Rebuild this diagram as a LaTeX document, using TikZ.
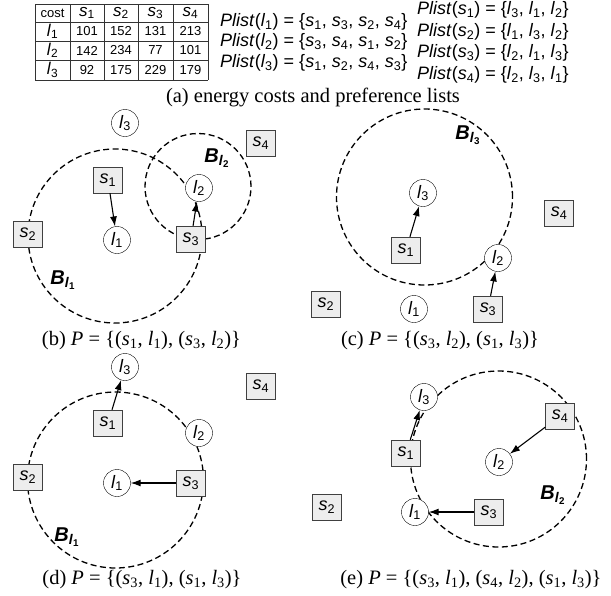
\documentclass[tikz,border=0pt]{standalone}
\usepackage{fontspec}
\setmainfont{Liberation Serif}
\setsansfont{Liberation Sans}
\usetikzlibrary{arrows.meta,backgrounds}

\newcommand{\sv}[1]{\textit{s}\textsubscript{#1}}
\newcommand{\lv}[1]{\textit{l}\textsubscript{#1}}
\newcommand{\plist}[2]{\textit{Plist}(#1) = \{#2\}}
\newcommand{\bset}[1]{\textbf{\textit{B}\textsubscript{\textit{l}\textsubscript{#1}}}}
\newcommand{\pset}[1]{\textit{P} = \{#1\}}

\begin{document}
\begin{tikzpicture}[
    x=1pt, y=-1pt,
    site/.style={draw=black!75, fill=black!7, minimum width=29pt,
                 minimum height=26pt, inner sep=0pt,
                 font=\sffamily\fontsize{18}{18}\selectfont},
    loc/.style={circle, draw, fill=white, minimum size=27pt, inner sep=0pt,
                font=\sffamily\fontsize{18}{18}\selectfont},
    ball/.style={draw, line width=1.3pt, dash pattern=on 6pt off 3.5pt},
    pick/.style={line width=1.1pt, -{Latex[length=10pt,width=7pt]}},
    balllabel/.style={font=\sffamily\fontsize{20}{20}\selectfont},
    subcap/.style={anchor=base, font=\fontsize{20.5}{24}\selectfont},
    cell/.style={font=\sffamily\fontsize{13}{13}\selectfont},
    head/.style={font=\sffamily\fontsize{17}{17}\selectfont},
    plist/.style={anchor=west, inner sep=0pt,
                  font=\sffamily\fontsize{18}{18}\selectfont},
]
\useasboundingbox (0,0) rectangle (611,595);

% (a) cost table and preference lists
\foreach \x in {35,70,104,138,173,208}
  \draw[black!80] (\x,4) -- (\x,80);
\foreach \y in {4,22,41,60,80}
  \draw[black!80] (35,\y) -- (208,\y);

\node[cell] (cost) at (52.5,13) {cost};
\foreach \k/\x in {1/87,2/121,3/155.5,4/190.5}
  \node[head] (head\k) at (\x,13) {\sv{\k}};
\foreach \k/\y/\a/\b/\c/\d in {1/31.5/101/152/131/213,
                               2/50.5/142/234/77/101,
                               3/70/92/175/229/179}{
  \node[head] (row\k) at (52.5,\y) {\lv{\k}};
  \node[cell] (c\k-1) at (87,\y) {\a};
  \node[cell] (c\k-2) at (121,\y) {\b};
  \node[cell] (c\k-3) at (155.5,\y) {\c};
  \node[cell] (c\k-4) at (190.5,\y) {\d};
}

\node[plist] (pl1) at (220,22) {\plist{\lv{1}}{\sv{1}, \sv{3}, \sv{2}, \sv{4}}};
\node[plist] (pl2) at (220,42) {\plist{\lv{2}}{\sv{3}, \sv{4}, \sv{1}, \sv{2}}};
\node[plist] (pl3) at (220,63) {\plist{\lv{3}}{\sv{1}, \sv{2}, \sv{4}, \sv{3}}};
\node[plist] (ps1) at (417,10) {\plist{\sv{1}}{\lv{3}, \lv{1}, \lv{2}}};
\node[plist] (ps2) at (417,32) {\plist{\sv{2}}{\lv{1}, \lv{3}, \lv{2}}};
\node[plist] (ps3) at (417,53) {\plist{\sv{3}}{\lv{2}, \lv{1}, \lv{3}}};
\node[plist] (ps4) at (417,75) {\plist{\sv{4}}{\lv{2}, \lv{3}, \lv{1}}};
\node[subcap] (capa) at (313,102) {(a) energy costs and preference lists};

% (b)
\node[loc]  (b-l3) at (125,123) {\lv{3}};
\node[site] (b-s4) at (261,143) {\sv{4}};
\node[site] (b-s1) at (108,180) {\sv{1}};
\node[loc]  (b-l2) at (199,188) {\lv{2}};
\node[site] (b-s2) at (28,234) {\sv{2}};
\node[loc]  (b-l1) at (117,240) {\lv{1}};
\node[site] (b-s3) at (191,239) {\sv{3}};
\node[balllabel] (b-bl1) at (63,280) {\bset{1}};
\node[balllabel] (b-bl2) at (217,158) {\bset{2}};
\draw[pick] (b-s1) -- (b-l1);
\draw[pick] (b-s3) -- (b-l2);
\begin{scope}[on background layer]
  \draw[ball] ([shift={(-2,-4)}]b-l1.center) circle (87pt);
  \draw[ball] ([shift={(-1,-1.5)}]b-l2.center) circle (53pt);
\end{scope}
\node[subcap] (capb) at (141.5,345)
  {(b) \pset{(\sv{1}, \lv{1}), (\sv{3}, \lv{2})}};

% (c)
\node[loc]  (c-l3) at (423,193) {\lv{3}};
\node[site] (c-s4) at (559,213) {\sv{4}};
\node[site] (c-s1) at (406,250) {\sv{1}};
\node[loc]  (c-l2) at (498,258) {\lv{2}};
\node[site] (c-s2) at (326,304) {\sv{2}};
\node[loc]  (c-l1) at (414,309) {\lv{1}};
\node[site] (c-s3) at (488,309) {\sv{3}};
\node[balllabel] (c-bl3) at (468,135) {\bset{3}};
\draw[pick] (c-s1) -- (c-l3);
\draw[pick] (c-s3) -- (c-l2);
\begin{scope}[on background layer]
  \draw[ball] ([shift={(1.5,4)}]c-l3.center) circle (88pt);
\end{scope}
\node[subcap] (capc) at (440,345)
  {(c) \pset{(\sv{3}, \lv{2}), (\sv{1}, \lv{3})}};

% (d)
\node[loc]  (d-l3) at (125,367) {\lv{3}};
\node[site] (d-s4) at (261,386) {\sv{4}};
\node[site] (d-s1) at (108,423) {\sv{1}};
\node[loc]  (d-l2) at (199,433) {\lv{2}};
\node[site] (d-s2) at (28,477) {\sv{2}};
\node[loc]  (d-l1) at (117,483) {\lv{1}};
\node[site] (d-s3) at (191,483) {\sv{3}};
\node[balllabel] (d-bl1) at (67,537) {\bset{1}};
\draw[pick] (d-s1) -- (d-l3);
\draw[pick] (d-s3) -- (d-l1);
\begin{scope}[on background layer]
  \draw[ball] ([shift={(-1.5,-3)}]d-l1.center) circle (88pt);
\end{scope}
\node[subcap] (capd) at (142,584)
  {(d) \pset{(\sv{3}, \lv{1}), (\sv{1}, \lv{3})}};

% (e)
\node[loc]  (e-l3) at (424,397) {\lv{3}};
\node[site] (e-s4) at (560,416) {\sv{4}};
\node[site] (e-s1) at (406,453) {\sv{1}};
\node[loc]  (e-l2) at (499,462) {\lv{2}};
\node[site] (e-s2) at (327,507) {\sv{2}};
\node[loc]  (e-l1) at (415,512) {\lv{1}};
\node[site] (e-s3) at (489,512) {\sv{3}};
\node[balllabel] (e-bl2) at (553,495) {\bset{2}};
\draw[pick] (e-s1) -- (e-l3);
\draw[pick] (e-s4) -- (e-l2);
\draw[pick] (e-s3) -- (e-l1);
\begin{scope}[on background layer]
  \draw[ball] ([shift={(-0.5,-3)}]e-l2.center) circle (88pt);
\end{scope}
\node[subcap] (cape) at (471,584)
  {(e) \pset{(\sv{3}, \lv{1}), (\sv{4}, \lv{2}), (\sv{1}, \lv{3})}};

\end{tikzpicture}
\end{document}
